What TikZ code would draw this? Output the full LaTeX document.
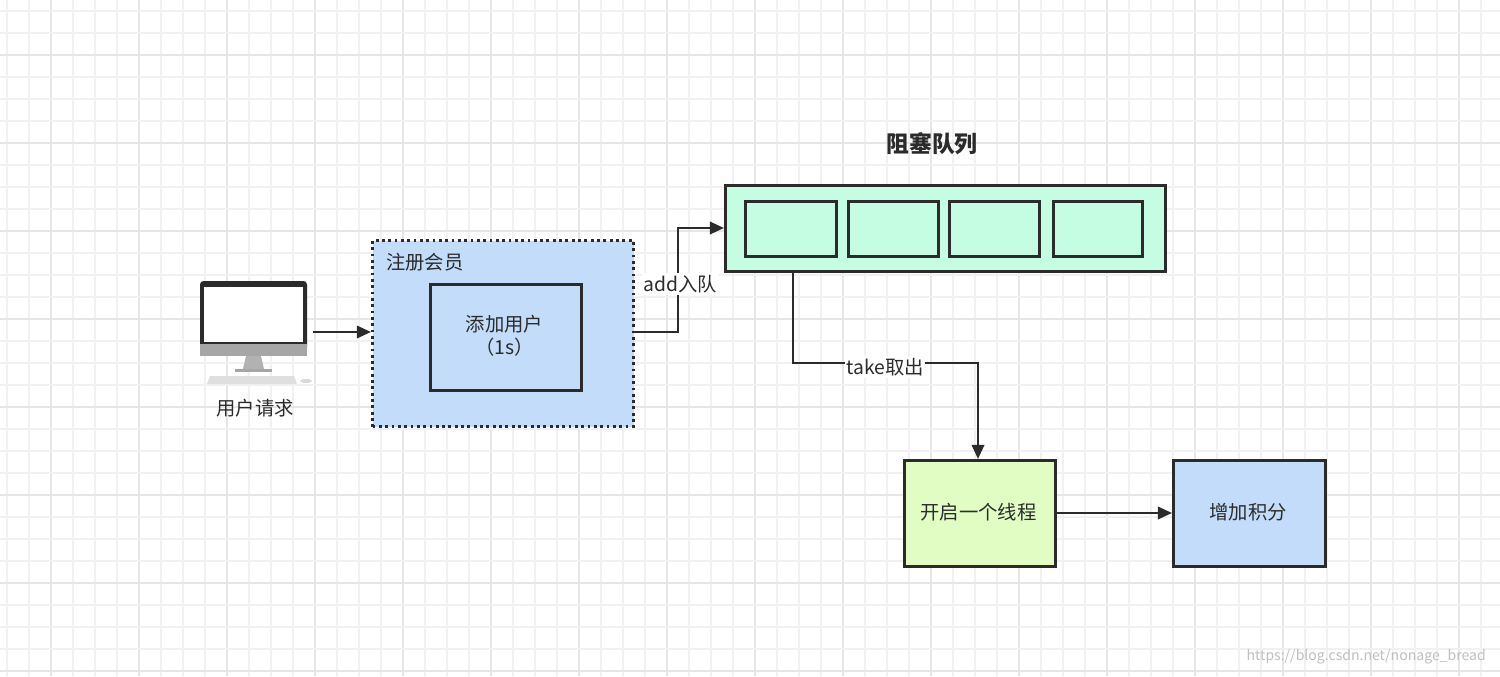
\documentclass[tikz,border=0pt]{standalone}
\usepackage{fontspec}
\setmainfont{Noto Sans CJK SC}
\usetikzlibrary{arrows.meta}
\definecolor{gridm}{HTML}{F1F1F1}
\definecolor{gridM}{HTML}{E6E6E6}
\definecolor{bluef}{HTML}{C2DCFA}
\definecolor{greenf}{HTML}{C5FDE2}
\definecolor{limef}{HTML}{E1FDC4}
\definecolor{ink}{HTML}{2B2B2B}
\tikzset{
  box/.style={draw=ink,line width=1.6pt,inner sep=0pt,anchor=north west},
  lbl/.style={font=\fontsize{11}{13}\selectfont,text=ink},
  conn/.style={draw=ink,line width=1.4pt},
  arr/.style={conn,-{Triangle[length=8pt,width=7pt]}},
}
\begin{document}
\begin{tikzpicture}[x=0.02cm,y=-0.02cm]
\useasboundingbox (0,0) rectangle (1500,676);
\fill[white] (0,0) rectangle (1500,676);
\foreach \i in {0,...,68} {
  \pgfmathtruncatemacro\m{mod(\i,4)}
  \ifnum\m=2 \draw[gridM,line width=1pt] ({7+22*\i},0) -- ({7+22*\i},676);
  \else \draw[gridm,line width=1pt] ({7+22*\i},0) -- ({7+22*\i},676); \fi
}
\foreach \j in {0,...,30} {
  \pgfmathtruncatemacro\m{mod(\j,4)}
  \ifnum\m=2 \draw[gridM,line width=1pt] (0,{11+22*\j}) -- (1500,{11+22*\j});
  \else \draw[gridm,line width=1pt] (0,{11+22*\j}) -- (1500,{11+22*\j}); \fi
}
% computer
\fill[ink,rounded corners=2pt] (200,281) rectangle (307,350);
\fill[white] (204,287) rectangle (303,342);
\fill[gray!70] (200,344) -- (307,344) -- (307,356) -- (200,356) -- cycle;
\fill[gray!60] (246,356) -- (261,356) -- (264,369) -- (243,369) -- cycle;
\fill[gray!70] (235,369) rectangle (272,372);
\fill[gray!25] (210,376) -- (294,376) -- (297,384) -- (207,384) -- cycle;
\fill[gray!30] (306,381) ellipse (6 and 2);
\coordinate (pc) at (307,332);
\node[lbl] (pcl) at (255,408) {用户请求};
% register box
\node[box,draw=ink,dotted,line width=1.8pt,fill=bluef,minimum width=261*0.02cm,minimum height=186*0.02cm] (reg) at (371,239) {};
\node[lbl,anchor=west] (regl) at (380,262) {注册会员};
\node[box,fill=bluef,minimum width=151*0.02cm,minimum height=106*0.02cm] (add) at (429,283) {};
\node[lbl,align=center] (addt) at (504.5,336) {添加用户\\（1s）};
\draw[arr] (313,332) -- (reg.west |- 0,332);
% queue
\node[lbl,font=\fontsize{13}{15}\selectfont\bfseries] (qt) at (932,144) {阻塞队列};
\node[box,fill=greenf,minimum width=440*0.02cm,minimum height=86*0.02cm] (q) at (724,184) {};
\node[box,fill=greenf,minimum width=91*0.02cm,minimum height=55*0.02cm] (c1) at (744,200) {};
\node[box,fill=greenf,minimum width=90*0.02cm,minimum height=55*0.02cm] (c2) at (847,200) {};
\node[box,fill=greenf,minimum width=90*0.02cm,minimum height=55*0.02cm] (c3) at (948,200) {};
\node[box,fill=greenf,minimum width=89*0.02cm,minimum height=55*0.02cm] (c4) at (1052,200) {};
\draw[arr] (reg.east |- 0,332) -- (678,332) -- (678,228) -- (q.west |- 0,228);
\node[lbl,fill=white,inner sep=1pt] (addl) at (680,284) {add入队};
% thread
\node[box,fill=limef,minimum width=151*0.02cm,minimum height=106*0.02cm] (th) at (903,459) {};
\node[lbl] (tht) at (978.5,512) {开启一个线程};
\node[box,fill=bluef,minimum width=152*0.02cm,minimum height=106*0.02cm] (pt) at (1172,459) {};
\node[lbl] (ptt) at (1248,512) {增加积分};
\draw[arr] (793,270) -- (793,363) -- (978,363) -- (th.north -| 978,0);
\node[lbl,fill=white,inner sep=1pt] (tk) at (885,367) {take取出};
\draw[arr] (th.east |- 0,513) -- (pt.west |- 0,513);
\node[font=\fontsize{8}{10}\selectfont,text=gray!50,anchor=east] (wm) at (1492,657) {https://blog.csdn.net/nonage\_bread};
\end{tikzpicture}
\end{document}
